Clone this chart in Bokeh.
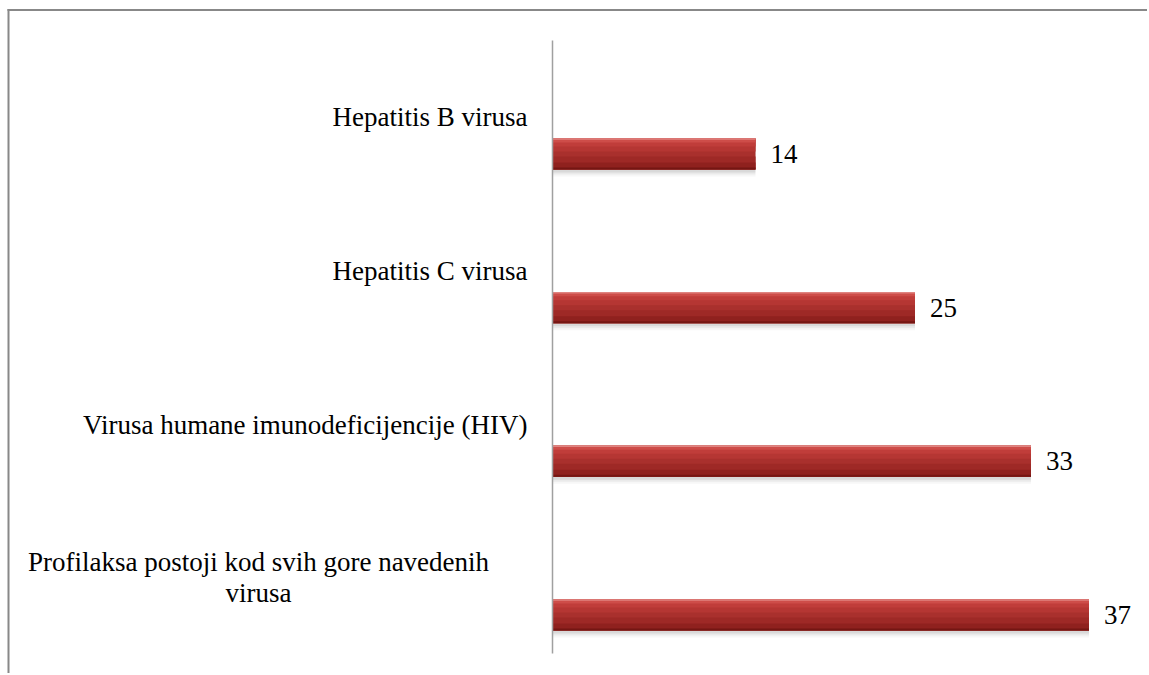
from bokeh.plotting import figure
from bokeh.models import ColumnDataSource, FactorRange, Range1d
from bokeh.transform import dodge
from bokeh.core.properties import value
from bokeh.embed import file_html
from bokeh.resources import INLINE

# ---- data (top to bottom as in the chart) ----
categories = [
    "Hepatitis B virusa",
    "Hepatitis C virusa",
    "Virusa humane imunodeficijencije (HIV)",
    "Profilaksa postoji kod svih gore navedenih\nvirusa",
]
counts = [14, 25, 33, 37]
value_labels = ["14", "25", "33", "37"]

# ---- layout constants (pixels) ----
W, H = 1147, 673
PX_X = 14.5          # pixels per unit on x
PX_Y = 153.7         # pixels per category band
ZERO_PX = 552        # canvas x of value 0
n = len(categories)
pad = (H / PX_Y - n) / 2.0

x_start = -ZERO_PX / PX_X
x_end = (W - ZERO_PX) / PX_X

def ydata(y_px):
    return (n + pad) - y_px / PX_Y

def xdata(x_px):
    return (x_px - ZERO_PX) / PX_X

factors = list(reversed(categories))   # bottom-to-top
p = figure(width=W, height=H, output_backend="svg", toolbar_location=None,
           x_range=Range1d(x_start, x_end),
           y_range=FactorRange(factors=factors, range_padding=pad,
                               range_padding_units="absolute"),
           min_border=0, min_border_left=0, min_border_right=0,
           min_border_top=0, min_border_bottom=0)
p.axis.visible = False
p.xgrid.visible = False
p.ygrid.visible = False
p.outline_line_color = None
p.background_fill_color = "white"
p.border_fill_color = "white"

src = ColumnDataSource(dict(cat=categories, val=counts, lab=value_labels))

def dy(px_down):
    return -px_down / PX_Y

BAR_OFF = 47.5   # bar center below band anchor (px)
LAB_OFF = 11.0   # label center below band anchor (px)
BAR_H = 31.0

# soft shadow below the bars
for off, a in [(3.0, 0.07), (5.0, 0.05), (7.0, 0.03)]:
    p.hbar(y=dodge("cat", dy(BAR_OFF + off), range=p.y_range), right="val",
           left=0, height=BAR_H / PX_Y, source=src, fill_color="#000000",
           fill_alpha=a, line_color=None)

# bar body: solid base, then shading strips on top
# (offset of strip centre from bar centre in px, strip height px, colour)
strips = [
    (0.0, BAR_H, "#A9302D"),
    (-9.0, 13.0, "#B53633"),
    (-11.5, 8.0, "#C03D3A"),
    (-13.5, 4.0, "#CE4D49"),
    (-15.0, 1.5, "#E08480"),
    (9.0, 13.0, "#9E2926"),
    (12.0, 7.0, "#8F211E"),
    (14.5, 2.0, "#741613"),
]
for off, h, col in strips:
    p.hbar(y=dodge("cat", dy(BAR_OFF + off), range=p.y_range), right="val",
           left=0, height=h / PX_Y, source=src, fill_color=col,
           line_color=None)

# value labels
p.text(x="val", y=dodge("cat", dy(BAR_OFF), range=p.y_range), text="lab",
       source=src, x_offset=15, text_font=value("Liberation Serif"),
       text_font_size="27px", text_align="left", text_baseline="middle",
       text_color="black")

# category labels
single = ColumnDataSource(dict(cat=categories[:3], t=categories[:3]))
p.text(x=xdata(527), y=dodge("cat", dy(LAB_OFF), range=p.y_range),
       text="t", source=single, text_font=value("Liberation Serif"),
       text_font_size="27px", text_align="right", text_baseline="middle",
       text_color="black")
multi = ColumnDataSource(dict(cat=categories[3:], t=categories[3:]))
p.text(x=xdata(258), y=dodge("cat", dy(LAB_OFF - 1), range=p.y_range),
       text="t", source=multi, text_font=value("Liberation Serif"),
       text_font_size="27px", text_align="center", text_baseline="middle",
       text_line_height=1.02, text_color="black")

# vertical category axis line
ax = ColumnDataSource(dict(x=[0], y0=[categories[0]], y1=[categories[-1]]))
p.segment(x0="x", x1="x", y0=dodge("y0", 66.0 / PX_Y, range=p.y_range),
          y1=dodge("y1", -86.0 / PX_Y, range=p.y_range), source=ax,
          line_color="#A0A0A0", line_width=1.5)

# chart frame (top and left edges visible)
p.segment(x0=[xdata(7)], x1=[x_end], y0=[ydata(9.5)], y1=[ydata(9.5)],
          line_color="#888888", line_width=2)
p.segment(x0=[xdata(8)], x1=[xdata(8)], y0=[ydata(8.5)], y1=[ydata(H)],
          line_color="#888888", line_width=2)

open("out.html", "w").write(file_html(p, INLINE))
